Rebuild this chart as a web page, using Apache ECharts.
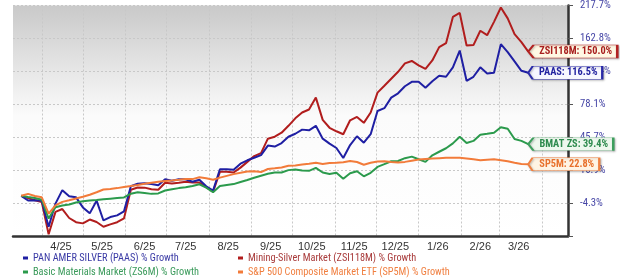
<!DOCTYPE html>
<html><head><meta charset="utf-8">
<script src="https://cdn.jsdelivr.net/npm/echarts@6/dist/echarts.min.js"></script>
<style>html,body{margin:0;padding:0;background:#fff}#c{width:620px;height:278px}</style>
</head><body><div id="c"></div>
<script>
// ---------- data (growth %) ----------
const dates = ['2025-03-17','2025-03-22','2025-03-27','2025-04-01','2025-04-06','2025-04-11','2025-04-16','2025-04-21','2025-04-26','2025-05-01','2025-05-06','2025-05-11','2025-05-16','2025-05-21','2025-05-26','2025-05-31','2025-06-05','2025-06-10','2025-06-15','2025-06-20','2025-06-25','2025-06-30','2025-07-05','2025-07-10','2025-07-15','2025-07-20','2025-07-25','2025-07-30','2025-08-04','2025-08-09','2025-08-14','2025-08-19','2025-08-24','2025-08-29','2025-09-03','2025-09-08','2025-09-13','2025-09-18','2025-09-23','2025-09-28','2025-10-03','2025-10-08','2025-10-13','2025-10-18','2025-10-23','2025-10-28','2025-11-02','2025-11-07','2025-11-12','2025-11-17','2025-11-22','2025-11-27','2025-12-02','2025-12-07','2025-12-12','2025-12-17','2025-12-22','2025-12-27','2026-01-01','2026-01-06','2026-01-11','2026-01-16','2026-01-21','2026-01-26','2026-01-31','2026-02-05','2026-02-10','2026-02-15','2026-02-20','2026-02-25','2026-03-02','2026-03-07','2026-03-12','2026-03-17','2026-03-22'];

const paas = [0.0,-2.8,-2.6,-2.9,-17.1,-4.6,3.5,-0.2,-0.9,-6.8,-10.1,-2.9,-13.9,-12.1,-11.2,-9.0,6.0,7.6,8.0,7.4,6.6,10.6,9.6,10.6,10.6,8.9,10.3,6.0,3.2,17.5,17.5,17.1,21.6,24.1,26.0,28.1,35.7,34.9,37.8,43.2,45.8,49.5,48.9,53.0,41.5,37.3,33.7,25.8,36.1,43.6,38.1,45.4,67.4,70.3,81.6,86.4,94.6,99.9,99.9,92.9,100.5,107.4,106.1,118.2,141.7,101.1,106.1,118.2,110.3,111.1,151.3,139.5,126.2,113.7,111.1];

const zsi118m = [0.0,-1.4,-2.6,-3.7,-20.8,-9.3,-7.7,-12.6,-14.8,-15.4,-13.4,-14.7,-17.1,-15.9,-14.8,-12.8,3.8,5.2,5.1,4.1,3.8,8.3,7.8,8.3,8.9,8.5,8.4,5.4,2.6,15.7,15.7,15.2,18.7,22.9,27.3,29.6,41.5,43.2,46.7,53.0,60.1,65.9,68.9,81.6,58.6,51.2,48.0,45.4,58.2,61.5,55.8,65.9,87.2,95.2,103.6,112.4,123.5,126.9,120.8,116.2,127.6,146.8,152.8,196.5,203.7,149.1,149.8,172.6,165.3,187.7,213.9,193.8,166.9,154.3,140.2];

const zs6m = [0.0,-0.7,-1.3,-2.3,-12.9,-6.7,-5.7,-5.1,-4.0,-3.3,-2.8,-2.5,-2.1,-1.7,-1.3,-1.0,1.3,2.2,1.7,1.2,1.5,3.3,4.1,4.8,5.4,6.2,7.3,5.1,2.2,6.1,6.8,7.4,8.8,10.1,11.6,13.0,14.3,15.2,15.2,16.9,17.4,16.6,16.4,18.5,15.2,14.2,15.0,10.9,14.7,16.1,12.6,15.0,19.2,21.2,23.4,23.6,25.7,26.9,24.9,22.9,27.9,30.7,33.5,37.5,43.1,37.9,39.6,45.0,45.8,46.7,51.6,50.3,41.2,39.6,36.9];

const sp5m = [0.0,1.2,-0.1,-0.9,-10.3,-5.6,-3.6,-2.7,-1.6,-0.6,0.7,2.2,3.9,4.3,4.8,5.5,6.1,6.8,7.6,8.3,8.9,9.5,9.8,10.2,10.7,10.7,11.9,11.3,10.3,11.7,12.9,14.1,15.0,16.0,16.1,15.5,17.7,18.2,18.8,20.0,20.3,20.9,21.5,22.2,21.4,22.0,22.3,22.7,23.6,22.8,20.8,22.2,23.2,23.4,22.9,22.5,22.9,23.8,24.7,25.1,25.4,25.7,26.0,26.0,26.0,25.5,24.8,24.1,24.5,24.9,24.2,23.3,22.3,21.4,21.2];

const seriesNames = ['PAN AMER SILVER (PAAS) % Growth','Mining-Silver Market (ZSI118M) % Growth','Basic Materials Market (ZS6M) % Growth','S&P 500 Composite Market ETF (SP5M) % Growth'];
const tagTexts = ['PAAS: 116.5%','ZSI118M: 150.0%','BMAT ZS: 39.4%','SP5M: 22.8%'];
const monthStarts = ['2025-04-01','2025-05-01','2025-06-01','2025-07-01','2025-08-01','2025-09-01','2025-10-01','2025-11-01','2025-12-01','2026-01-01','2026-02-01','2026-03-01','2026-04-01'];
const monthLabelDates = ['2025-04-15','2025-05-15','2025-06-15','2025-07-15','2025-08-15','2025-09-15','2025-10-15','2025-11-15','2025-12-15','2026-01-15','2026-02-15','2026-03-15'];
const xRange = ['2025-03-11','2026-04-20'];
const yTickLabels = ['', '-4.3%', '16.9%', '45.7%', '78.1%', '116.4%', '162.8%', '217.7%'];

// ---------- scale helpers ----------
const BASE = Math.exp(0.2);      // log step between gridlines
const REF = 0.957;               // growth index at the -4.3% gridline
const toIndex = g => (1 + g / 100) / REF;
const ts = s => Date.parse(s + 'T00:00:00Z');

// ---------- pick the narrowest installed sans font, size text to the reference widths ----------
const ctx = document.createElement('canvas').getContext('2d');
function textW(t, font){ ctx.font = font; return ctx.measureText(t).width; }
const CANDS = ['Liberation Sans Narrow','Arial Narrow','DejaVu Sans Condensed','Roboto Condensed','Noto Sans Condensed','Lato','Roboto','Liberation Sans'];
let NARROW = 'Liberation Sans', bestW = Infinity;
CANDS.forEach(f => { const w = textW(seriesNames[0], `10px "${f}", monospace`); if (w < bestW) { bestW = w; NARROW = f; } });
const FAM = `"${NARROW}", "Liberation Sans", Arial, sans-serif`;
const fitSize = (txt, target, weight) => Math.min(11.5, 10 * target / textW(txt, `${weight||'normal'} 10px ${FAM}`));
const legendSize = fitSize(seriesNames[0], 146);
const ySize = fitSize('78.1%', 25.5);
const tagSize = fitSize(tagTexts[1], 73, 'bold');

const styles = [
  {line:'#1f1fa3', tagBorder:'#2a2aa8', tagFill:'#f7f7ff', tagText:'#2323a0', legend:'#3a3aa5'},
  {line:'#b11d1d', tagBorder:'#b22222', tagFill:'#fff8e4', tagText:'#a81e1e', legend:'#a83a3a'},
  {line:'#2b9a4c', tagBorder:'#3d9f5d', tagFill:'#eef8ee', tagText:'#2e8b4e', legend:'#3a9a5a'},
  {line:'#f27b3a', tagBorder:'#f08040', tagFill:'#fff4e4', tagText:'#e8712c', legend:'#f07f40'}
];
const values = [paas, zsi118m, zs6m, sp5m];

function mkSeries(idx){
  const st = styles[idx];
  const data = dates.map((d,i) => [ts(d), toIndex(values[idx][i])]);
  const last = data[data.length - 1];
  const w = Math.round(textW(tagTexts[idx], `bold ${tagSize}px ${FAM}`) + 16);
  return {
    name: seriesNames[idx], type:'line', data, showSymbol:false, symbol:'none',
    lineStyle:{color:st.line, width:2}, itemStyle:{color:st.line},
    animation:false, silent:true,
    markPoint:{
      symbol:'path://M0,6 L6,0 L100,0 L100,12 L6,12 Z',
      symbolKeepAspect:false, symbolSize:[w,13], symbolOffset:[w/2,0],
      itemStyle:{color:st.tagFill, borderColor:st.tagBorder, borderWidth:1, shadowBlur:2, shadowColor:'rgba(0,0,0,0.25)', shadowOffsetX:1, shadowOffsetY:1},
      label:{show:true, position:'inside', offset:[3,0], formatter:tagTexts[idx], color:st.tagText, fontWeight:'bold', fontSize:tagSize, fontFamily:FAM},
      data:[{coord:last}], animation:false, silent:true
    }
  };
}

const legendCommon = {top:252, orient:'vertical', padding:0, itemGap:2, itemWidth:5, itemHeight:3, icon:'rect', selectedMode:false,
  textStyle:{fontSize:legendSize, fontFamily:FAM, lineHeight:12}};

const chart = echarts.init(document.getElementById('c'), null, {renderer:'canvas'});
chart.setOption({
  animation:false,
  backgroundColor:'#ffffff',
  grid:{left:13, right:52, top:3, bottom:42, show:true, borderWidth:0,
    backgroundColor:new echarts.graphic.LinearGradient(0,0,0,1,[{offset:0,color:'#c9c9c9'},{offset:0.48,color:'#fbfbfb'},{offset:1,color:'#ffffff'}])},
  xAxis:{type:'value', min:ts(xRange[0]), max:ts(xRange[1]),
    axisLine:{show:true, onZero:false, lineStyle:{color:'#333', width:2.5}},
    axisTick:{show:false, customValues:monthStarts.map(ts)},
    splitLine:{show:true, lineStyle:{type:[2,2], color:'#c8c8c8', width:1}},
    axisLabel:{customValues:monthLabelDates.map(ts), margin:5, color:'#333', fontSize:11, fontFamily:'Arial, "Liberation Sans", sans-serif', hideOverlap:false,
      formatter: v => { const d = new Date(v); return (d.getUTCMonth()+1) + '/' + String(d.getUTCFullYear()).slice(2); }}
  },
  yAxis:{type:'log', logBase:BASE, position:'right',
    min:Math.pow(BASE,-1)*0.99999, max:Math.pow(BASE,6)*1.00001,
    axisLine:{show:true, lineStyle:{color:'#333', width:2.5}},
    axisTick:{show:true, length:5, lineStyle:{color:'#555', width:1}},
    splitLine:{show:true, lineStyle:{type:[2,2], color:'#c8c8c8', width:1}},
    axisLabel:{margin:12, color:'#4646a6', fontSize:ySize, fontFamily:FAM,
      formatter: v => { const k = Math.round(Math.log(v)/Math.log(BASE)); return yTickLabels[k+1] || ''; }}
  },
  legend:[
    Object.assign({left:23, data:[{name:seriesNames[0], textStyle:{color:styles[0].legend}}, {name:seriesNames[2], textStyle:{color:styles[2].legend}}]}, legendCommon),
    Object.assign({left:238, data:[{name:seriesNames[1], textStyle:{color:styles[1].legend}}, {name:seriesNames[3], textStyle:{color:styles[3].legend}}]}, legendCommon)
  ],
  series:[mkSeries(1), mkSeries(0), mkSeries(2), mkSeries(3)]
});
</script>
</body></html>
